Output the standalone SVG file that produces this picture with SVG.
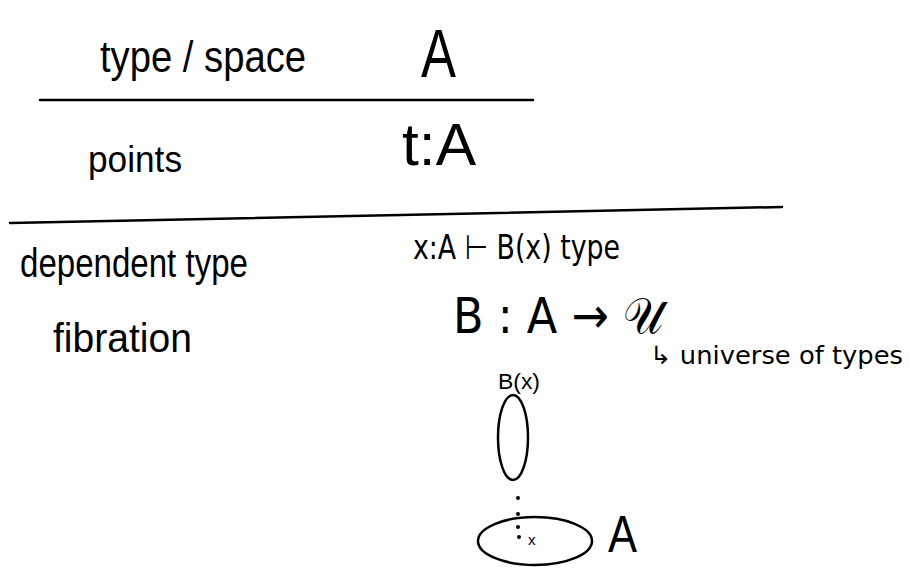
<svg xmlns="http://www.w3.org/2000/svg" width="910" height="586" viewBox="0 0 910 586">
<style>
text{font-family:"Liberation Sans","DejaVu Sans",sans-serif;fill:#000}
.m{font-family:"DejaVu Sans","Liberation Sans",sans-serif}
.ln{stroke:#000;stroke-width:2.5;fill:none;stroke-linecap:round}
</style>
<rect width="910" height="586" fill="#fff"/>
<g id="header">
<text x="100" y="72" font-size="44" textLength="206" lengthAdjust="spacingAndGlyphs">type / space</text>
<text x="421" y="77" font-size="68" textLength="35" lengthAdjust="spacingAndGlyphs">A</text>
</g>
<g id="dividers">
<line class="ln" x1="40" y1="100" x2="533" y2="100"/>
<line class="ln" x1="10" y1="223" x2="782" y2="207"/>
</g>
<g id="points">
<text x="88" y="172" font-size="36" textLength="94" lengthAdjust="spacingAndGlyphs">points</text>
<text x="402" y="165" font-size="60" textLength="74" lengthAdjust="spacingAndGlyphs">t:A</text>
</g>
<g id="dependent">
<text x="20" y="277" font-size="40" textLength="228" lengthAdjust="spacingAndGlyphs">dependent type</text>
<text x="53" y="352" font-size="40" textLength="139" lengthAdjust="spacingAndGlyphs">fibration</text>
<text class="m" x="413" y="259" font-size="34" textLength="207" lengthAdjust="spacingAndGlyphs">x:A ⊢ B(x) type</text>
<text class="m" x="453" y="333" font-size="50" textLength="210" lengthAdjust="spacingAndGlyphs">B : A → 𝒰</text>
<text class="m" x="650" y="364" font-size="25" textLength="253" lengthAdjust="spacingAndGlyphs">↳ universe of types</text>
</g>
<g id="picture">
<text x="498" y="389" font-size="22" textLength="42" lengthAdjust="spacingAndGlyphs">B(x)</text>
<ellipse class="ln" cx="513" cy="437.5" rx="15" ry="42.5"/>
<g fill="#000">
<circle cx="518" cy="498" r="2"/>
<circle cx="518" cy="514" r="2"/>
<circle cx="518" cy="527" r="2"/>
<circle cx="519" cy="537" r="2"/>
</g>
<ellipse class="ln" cx="535" cy="541" rx="57" ry="24"/>
<text x="528" y="545" font-size="15">x</text>
<text x="608" y="552" font-size="52" textLength="29" lengthAdjust="spacingAndGlyphs">A</text>
</g>
</svg>
